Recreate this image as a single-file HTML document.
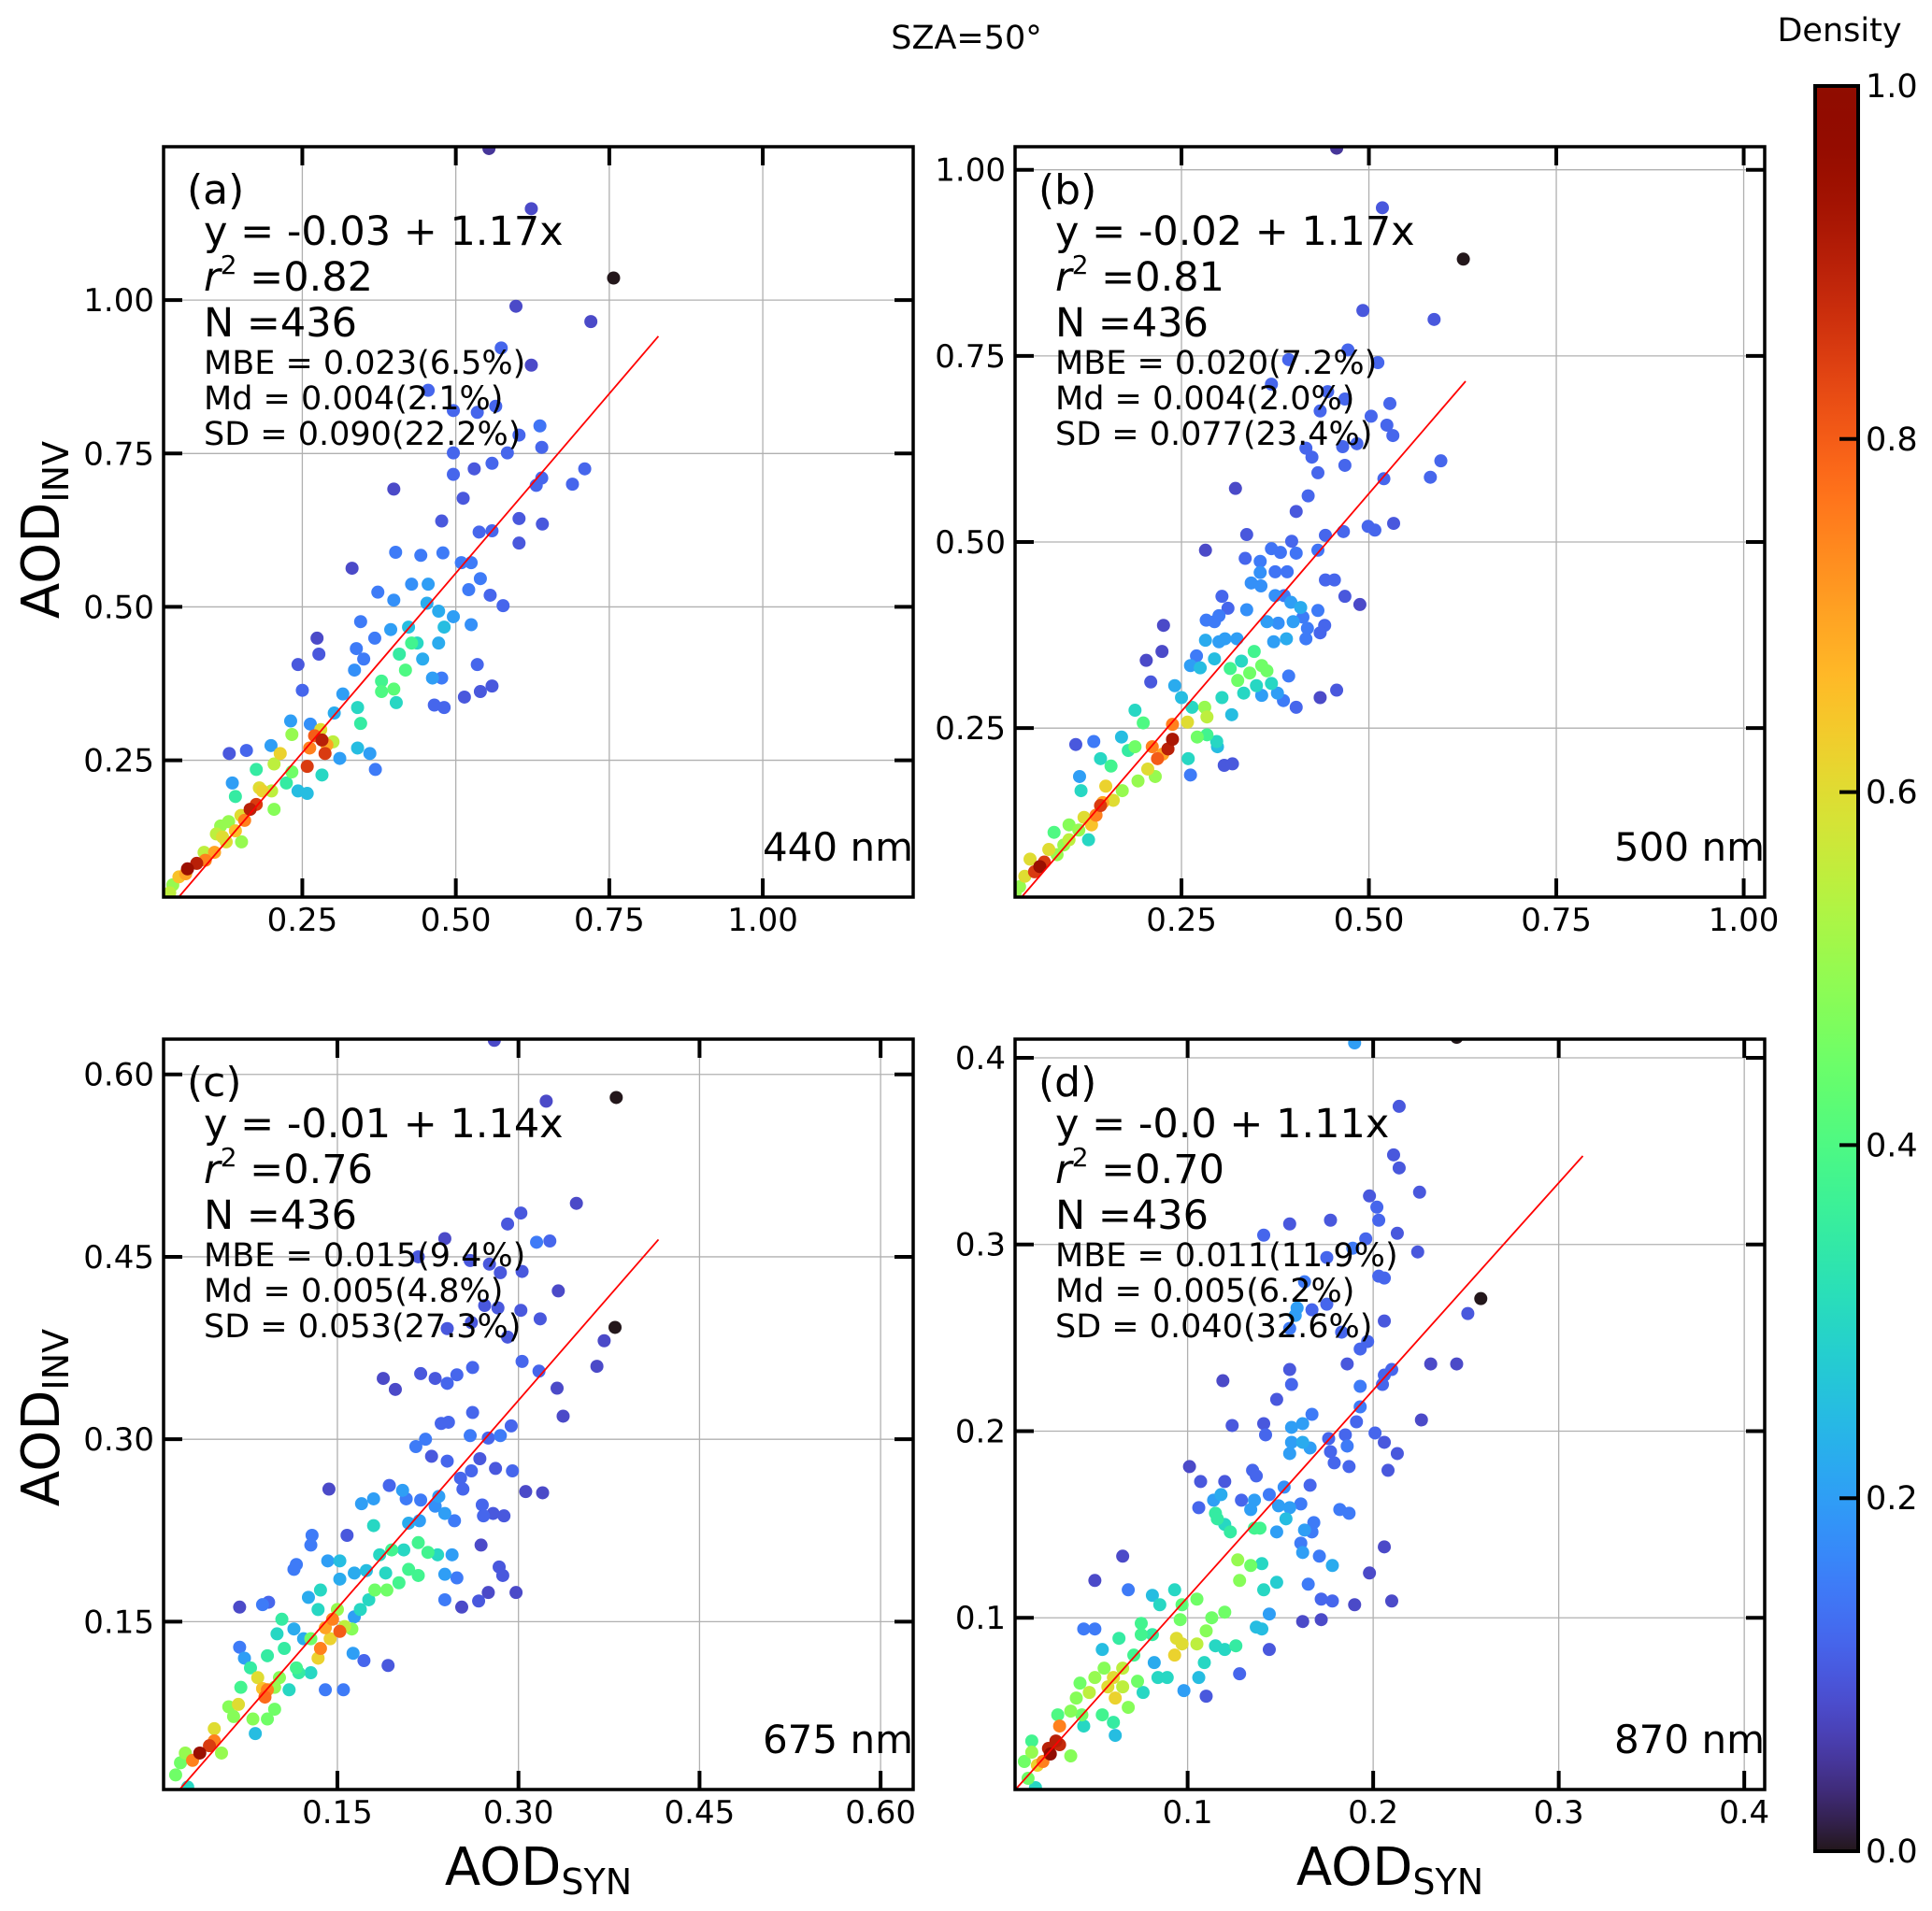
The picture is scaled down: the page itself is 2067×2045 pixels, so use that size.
<!DOCTYPE html>
<html><head><meta charset="utf-8">
<style>
html,body{margin:0;padding:0;background:#fff;}
svg{display:block;font-family:"DejaVu Sans","Liberation Sans",sans-serif;}
</style></head>
<body>
<svg id="fig" width="2067" height="2045" viewBox="0 0 2067 2045" xmlns="http://www.w3.org/2000/svg">
<rect x="0" y="0" width="2067" height="2045" fill="#fff"/>
<text x="1034" y="52" font-size="35" text-anchor="middle">SZA=50°</text>
<text x="1968" y="44" font-size="35" text-anchor="middle">Density</text>
<text transform="translate(63,567) rotate(-90)" font-size="56" text-anchor="middle">AOD<tspan font-size="38" dy="10">INV</tspan></text>
<text transform="translate(63,1517) rotate(-90)" font-size="56" text-anchor="middle">AOD<tspan font-size="38" dy="10">INV</tspan></text>
<text x="576" y="2017" font-size="56" text-anchor="middle">AOD<tspan font-size="38" dy="10">SYN</tspan></text>
<text x="1487" y="2017" font-size="56" text-anchor="middle">AOD<tspan font-size="38" dy="10">SYN</tspan></text>
<g id="panels"></g>
<g id="cbar"></g>
</svg>
<script>
// ---- data (data units: x = AOD_SYN, y = AOD_INV, d = density) ----
const panelLetters = ["(a)","(b)","(c)","(d)"];
const wavelengths = ["440 nm","500 nm","675 nm","870 nm"];
const fitIntercepts = [-0.03,-0.02,-0.01,-0.0];
const fitSlopes = [1.17,1.17,1.14,1.11];
const fitXEnd = [0.83,0.629,0.416,0.313];
const eqTexts = ["y = -0.03 + 1.17x","y = -0.02 + 1.17x","y = -0.01 + 1.14x","y = -0.0 + 1.11x"];
const r2Texts = ["0.82","0.81","0.76","0.70"];
const nTexts = ["436","436","436","436"];
const mbeTexts = ["MBE = 0.023(6.5%)","MBE = 0.020(7.2%)","MBE = 0.015(9.4%)","MBE = 0.011(11.9%)"];
const mdTexts = ["Md = 0.004(2.1%)","Md = 0.004(2.0%)","Md = 0.005(4.8%)","Md = 0.005(6.2%)"];
const sdTexts = ["SD = 0.090(22.2%)","SD = 0.077(23.4%)","SD = 0.053(27.3%)","SD = 0.040(32.6%)"];
const xRanges = [[0.024,1.245],[0.028,1.028],[0.006,0.627],[0.007,0.411]];
const yRanges = [[0.027,1.25],[0.023,1.031],[0.012,0.629],[0.008,0.41]];
const xTicksA = [0.25,0.50,0.75,1.00], xTickLabelsA = ["0.25","0.50","0.75","1.00"];
const yTicksA = [0.25,0.50,0.75,1.00], yTickLabelsA = ["0.25","0.50","0.75","1.00"];
const xTicksB = [0.25,0.50,0.75,1.00], xTickLabelsB = ["0.25","0.50","0.75","1.00"];
const yTicksB = [0.25,0.50,0.75,1.00], yTickLabelsB = ["0.25","0.50","0.75","1.00"];
const xTicksC = [0.15,0.30,0.45,0.60], xTickLabelsC = ["0.15","0.30","0.45","0.60"];
const yTicksC = [0.15,0.30,0.45,0.60], yTickLabelsC = ["0.15","0.30","0.45","0.60"];
const xTicksD = [0.1,0.2,0.3,0.4], xTickLabelsD = ["0.1","0.2","0.3","0.4"];
const yTicksD = [0.1,0.2,0.3,0.4], yTickLabelsD = ["0.1","0.2","0.3","0.4"];
const cbarTicks = [0,0.2,0.4,0.6,0.8,1.0], cbarTickLabels = ["0.0","0.2","0.4","0.6","0.8","1.0"];

const pointsA = [[.554,1.247,.05],[.623,1.149,.08],[.757,1.036,0],[.598,.990,.08],[.72,.965,.08],[.623,.894,.08],[.574,.922,.12],[.455,.853,.12],[.496,.82,.12],[.535,.817,.12],[.565,.827,.12],[.637,.795,.14],[.603,.78,.12],[.496,.751,.12],[.584,.751,.12],[.64,.76,.12],[.559,.734,.12],[.496,.716,.12],[.53,.725,.1],[.71,.725,.12],[.69,.70,.12],[.64,.71,.12],[.399,.692,.08],[.512,.677,.1],[.477,.64,.1],[.631,.698,.12],[.603,.644,.1],[.641,.635,.1],[.538,.622,.12],[.559,.624,.12],[.603,.604,.1],[.331,.563,.08],[.402,.589,.15],[.443,.584,.15],[.479,.588,.15],[.509,.572,.15],[.525,.572,.15],[.54,.546,.15],[.521,.528,.15],[.556,.519,.12],[.577,.502,.12],[.373,.524,.15],[.399,.511,.18],[.428,.537,.18],[.455,.537,.2],[.453,.506,.22],[.472,.493,.22],[.496,.484,.2],[.481,.467,.25],[.525,.471,.18],[.345,.476,.15],[.368,.449,.15],[.394,.463,.2],[.423,.467,.25],[.437,.441,.3],[.472,.441,.22],[.446,.415,.22],[.462,.384,.2],[.477,.384,.15],[.465,.34,.12],[.481,.336,.12],[.514,.353,.1],[.54,.362,.1],[.559,.371,.1],[.535,.406,.12],[.379,.379,.38],[.399,.366,.42],[.418,.397,.4],[.408,.423,.35],[.428,.441,.38],[.403,.344,.3],[.379,.362,.4],[.34,.336,.3],[.345,.31,.35],[.34,.27,.25],[.36,.261,.2],[.369,.235,.15],[.302,.327,.22],[.316,.358,.2],[.335,.397,.18],[.338,.432,.15],[.35,.415,.15],[.274,.449,.08],[.277,.423,.1],[.243,.406,.1],[.25,.364,.12],[.282,.283,.9],[.287,.261,.85],[.258,.24,.85],[.262,.27,.75],[.233,.292,.5],[.214,.261,.62],[.233,.231,.45],[.243,.2,.25],[.204,.244,.55],[.18,.205,.6],[.165,.17,.9],[.175,.178,.85],[.156,.152,.75],[.141,.135,.65],[.126,.117,.6],[.107,.1,.7],[.092,.087,.75],[.078,.082,.9],[.063,.073,.95],[.049,.06,.65],[.039,.047,.5],[.034,.034,.55],[.131,.261,.1],[.159,.266,.12],[.199,.274,.2],[.136,.213,.2],[.141,.191,.35],[.175,.235,.35],[.204,.17,.48],[.117,.143,.5],[.151,.117,.5],[.224,.213,.35],[.282,.226,.3],[.258,.196,.25],[.311,.253,.2],[.263,.309,.18],[.231,.314,.2],[.11,.13,.55],[.2,.2,.55],[.15,.16,.6],[.09,.1,.55],[.3,.28,.55],[.28,.3,.6],[.06,.065,.7],[.13,.15,.5],[.27,.29,.8],[.29,.275,.7],[.185,.2,.62],[.12,.125,.6]];

const pointsB = [[.457,1.029,.05],[.518,.949,.1],[.626,.88,0],[.492,.811,.1],[.587,.799,.1],[.472,.758,.12],[.512,.741,.12],[.37,.712,.12],[.393,.745,.12],[.468,.692,.12],[.445,.702,.12],[.435,.676,.12],[.528,.686,.12],[.503,.669,.12],[.524,.657,.12],[.532,.643,.12],[.416,.626,.12],[.465,.628,.12],[.484,.632,.12],[.424,.614,.12],[.468,.603,.12],[.432,.593,.12],[.596,.609,.12],[.582,.587,.12],[.322,.572,.08],[.419,.562,.12],[.52,.585,.12],[.403,.541,.1],[.499,.521,.12],[.508,.516,.12],[.533,.525,.1],[.466,.514,.12],[.442,.509,.12],[.337,.51,.1],[.282,.489,.08],[.397,.501,.12],[.37,.491,.14],[.382,.486,.14],[.403,.485,.14],[.432,.489,.14],[.335,.478,.12],[.355,.474,.15],[.355,.459,.18],[.375,.46,.14],[.391,.46,.14],[.442,.449,.12],[.454,.449,.12],[.468,.427,.1],[.488,.416,.08],[.343,.445,.18],[.356,.441,.18],[.304,.427,.12],[.312,.411,.12],[.337,.409,.18],[.375,.428,.18],[.387,.428,.15],[.396,.419,.2],[.409,.412,.22],[.432,.408,.15],[.283,.395,.15],[.294,.393,.15],[.3,.401,.15],[.226,.388,.08],[.399,.393,.2],[.412,.399,.15],[.441,.388,.12],[.364,.393,.2],[.379,.391,.18],[.418,.384,.15],[.435,.378,.12],[.416,.37,.15],[.39,.37,.22],[.373,.366,.2],[.324,.37,.2],[.308,.37,.2],[.3,.366,.2],[.282,.368,.22],[.27,.347,.15],[.224,.353,.08],[.203,.341,.08],[.209,.312,.1],[.262,.334,.2],[.275,.331,.25],[.294,.343,.25],[.315,.33,.38],[.33,.34,.3],[.347,.353,.38],[.357,.334,.45],[.364,.327,.45],[.341,.324,.45],[.325,.314,.45],[.333,.297,.3],[.35,.307,.3],[.37,.31,.3],[.378,.297,.2],[.393,.32,.15],[.357,.294,.2],[.386,.287,.15],[.403,.278,.12],[.435,.291,.08],[.457,.301,.1],[.281,.278,.5],[.284,.265,.55],[.258,.258,.6],[.238,.255,.75],[.241,.307,.22],[.25,.291,.25],[.264,.278,.3],[.304,.291,.3],[.317,.268,.25],[.284,.241,.38],[.271,.238,.45],[.297,.232,.3],[.298,.225,.25],[.307,.2,.1],[.318,.202,.1],[.262,.187,.15],[.259,.209,.3],[.238,.235,.92],[.232,.222,.9],[.218,.209,.8],[.211,.225,.75],[.205,.195,.6],[.215,.185,.5],[.188,.225,.45],[.199,.257,.4],[.188,.274,.3],[.17,.238,.25],[.179,.22,.35],[.156,.199,.38],[.142,.209,.3],[.133,.232,.15],[.109,.228,.1],[.114,.185,.2],[.116,.166,.3],[.149,.172,.62],[.142,.146,.85],[.136,.133,.75],[.13,.12,.65],[.159,.153,.6],[.171,.166,.5],[.126,.1,.3],[.113,.113,.5],[.1,.12,.48],[.093,.093,.5],[.08,.11,.4],[.084,.08,.5],[.073,.087,.6],[.067,.07,.85],[.061,.064,.95],[.054,.057,.85],[.041,.051,.6],[.034,.037,.5],[.028,.028,.5],[.048,.074,.6],[.192,.179,.5],[.1,.1,.55],[.12,.13,.6],[.225,.215,.7],[.145,.15,.7]];

const pointsC = [[.28,.628,.08],[.323,.578,.08],[.381,.581,0],[.348,.494,.08],[.302,.486,.1],[.291,.477,.1],[.239,.465,.08],[.315,.462,.15],[.326,.463,.12],[.285,.437,.1],[.26,.447,.1],[.276,.444,.1],[.303,.438,.1],[.217,.45,.1],[.333,.422,.08],[.272,.41,.1],[.283,.408,.1],[.302,.406,.1],[.318,.399,.1],[.241,.391,.1],[.261,.396,.1],[.291,.384,.1],[.38,.392,0],[.371,.381,.08],[.365,.36,.08],[.303,.364,.12],[.317,.356,.12],[.332,.342,.08],[.337,.319,.08],[.262,.359,.12],[.249,.353,.12],[.241,.346,.12],[.231,.35,.1],[.219,.354,.1],[.188,.35,.08],[.198,.341,.08],[.262,.322,.12],[.236,.313,.12],[.242,.314,.12],[.215,.294,.15],[.223,.3,.15],[.228,.286,.1],[.241,.282,.12],[.252,.268,.12],[.254,.259,.12],[.26,.303,.15],[.275,.301,.12],[.285,.303,.15],[.294,.311,.12],[.268,.284,.1],[.261,.274,.12],[.281,.276,.1],[.295,.274,.12],[.306,.257,.08],[.32,.256,.08],[.27,.246,.12],[.271,.237,.12],[.279,.239,.1],[.288,.237,.1],[.269,.213,.08],[.284,.195,.1],[.287,.188,.1],[.298,.174,.08],[.275,.174,.08],[.267,.167,.1],[.253,.162,.08],[.239,.168,.15],[.249,.186,.15],[.239,.189,.2],[.143,.259,.08],[.193,.262,.12],[.204,.258,.2],[.207,.251,.15],[.219,.25,.15],[.234,.253,.2],[.231,.245,.18],[.239,.239,.2],[.247,.233,.15],[.218,.233,.2],[.209,.231,.22],[.158,.221,.1],[.17,.247,.2],[.18,.251,.2],[.18,.229,.3],[.129,.221,.15],[.128,.213,.15],[.114,.193,.15],[.116,.197,.15],[.142,.2,.2],[.152,.2,.25],[.164,.19,.22],[.174,.192,.25],[.185,.205,.3],[.195,.209,.38],[.205,.209,.3],[.217,.215,.38],[.225,.207,.38],[.233,.205,.3],[.245,.205,.2],[.209,.193,.38],[.217,.188,.38],[.201,.182,.38],[.191,.176,.45],[.181,.176,.45],[.19,.19,.3],[.176,.168,.3],[.169,.16,.3],[.164,.154,.2],[.152,.185,.22],[.136,.176,.3],[.126,.17,.22],[.134,.16,.3],[.15,.16,.5],[.146,.152,.75],[.152,.142,.8],[.144,.136,.62],[.136,.128,.75],[.134,.12,.62],[.156,.146,.55],[.162,.144,.48],[.128,.136,.45],[.122,.136,.22],[.114,.144,.22],[.104,.152,.35],[.1,.14,.3],[.106,.128,.35],[.092,.122,.35],[.088,.164,.15],[.093,.166,.12],[.069,.162,.08],[.069,.129,.15],[.073,.12,.2],[.078,.112,.35],[.084,.104,.6],[.092,.094,.75],[.09,.088,.78],[.098,.096,.5],[.102,.104,.48],[.11,.094,.3],[.116,.112,.38],[.118,.108,.35],[.128,.108,.3],[.14,.094,.15],[.155,.094,.15],[.172,.118,.12],[.192,.114,.1],[.163,.124,.2],[.07,.096,.38],[.06,.08,.48],[.068,.082,.6],[.082,.058,.25],[.08,.07,.48],[.092,.07,.45],[.098,.078,.45],[.064,.072,.48],[.048,.062,.6],[.044,.048,.85],[.036,.042,.95],[.03,.036,.75],[.024,.042,.5],[.02,.034,.45],[.016,.024,.45],[.026,.014,.3],[.054,.042,.5],[.048,.052,.75],[.14,.145,.7],[.088,.095,.65]];

const pointsD = [[.19,.408,.2],[.245,.411,0],[.214,.374,.1],[.211,.348,.1],[.214,.341,.1],[.225,.328,.1],[.198,.326,.1],[.202,.32,.12],[.203,.313,.12],[.213,.306,.1],[.224,.296,.1],[.155,.311,.1],[.177,.313,.1],[.141,.305,.12],[.196,.303,.12],[.189,.298,.15],[.175,.293,.12],[.163,.28,.15],[.203,.283,.12],[.206,.282,.12],[.175,.268,.12],[.167,.265,.12],[.159,.266,.2],[.158,.262,.2],[.206,.259,.1],[.155,.255,.15],[.183,.253,.12],[.193,.244,.12],[.197,.248,.12],[.258,.271,0],[.251,.263,.1],[.186,.236,.1],[.231,.236,.08],[.245,.236,.08],[.155,.233,.1],[.156,.225,.12],[.119,.227,.08],[.21,.233,.12],[.206,.23,.12],[.205,.225,.12],[.193,.224,.15],[.148,.217,.1],[.193,.213,.15],[.226,.206,.08],[.124,.203,.1],[.141,.204,.1],[.142,.198,.12],[.156,.202,.2],[.162,.204,.2],[.167,.209,.15],[.191,.205,.12],[.201,.199,.12],[.206,.194,.1],[.213,.188,.1],[.208,.179,.1],[.176,.196,.12],[.185,.198,.12],[.156,.194,.2],[.162,.194,.22],[.166,.191,.2],[.155,.188,.2],[.177,.189,.12],[.186,.192,.15],[.179,.183,.12],[.187,.181,.12],[.101,.181,.08],[.107,.173,.1],[.12,.173,.1],[.135,.179,.12],[.137,.176,.12],[.144,.166,.15],[.152,.17,.18],[.166,.171,.12],[.161,.161,.15],[.155,.159,.2],[.149,.16,.2],[.136,.163,.2],[.134,.158,.2],[.129,.163,.12],[.118,.166,.22],[.114,.163,.2],[.106,.159,.12],[.115,.156,.35],[.116,.153,.35],[.12,.15,.3],[.123,.146,.35],[.136,.148,.38],[.139,.148,.38],[.148,.146,.2],[.153,.153,.25],[.163,.147,.2],[.168,.151,.15],[.167,.146,.15],[.161,.14,.15],[.162,.135,.2],[.171,.133,.15],[.178,.128,.22],[.182,.158,.15],[.187,.156,.15],[.206,.138,.08],[.198,.124,.08],[.21,.109,.08],[.19,.107,.08],[.178,.109,.12],[.172,.11,.12],[.172,.099,.08],[.162,.098,.08],[.165,.118,.15],[.148,.119,.28],[.141,.115,.3],[.128,.12,.48],[.127,.131,.5],[.134,.128,.45],[.14,.129,.3],[.144,.102,.2],[.137,.095,.25],[.14,.094,.25],[.144,.083,.1],[.128,.07,.12],[.11,.058,.1],[.098,.061,.2],[.106,.068,.25],[.109,.076,.3],[.113,.1,.45],[.11,.093,.48],[.105,.086,.55],[.097,.086,.6],[.093,.08,.62],[.094,.089,.6],[.115,.085,.3],[.12,.083,.3],[.126,.085,.35],[.12,.103,.45],[.105,.11,.45],[.097,.107,.42],[.096,.099,.45],[.093,.115,.3],[.085,.107,.3],[.081,.112,.25],[.075,.097,.38],[.075,.091,.38],[.081,.091,.35],[.082,.076,.22],[.084,.068,.3],[.089,.068,.3],[.076,.06,.3],[.068,.115,.15],[.065,.133,.08],[.05,.12,.08],[.044,.094,.15],[.05,.094,.15],[.054,.083,.25],[.063,.089,.35],[.071,.08,.38],[.065,.073,.55],[.06,.068,.6],[.061,.057,.62],[.057,.063,.6],[.065,.063,.55],[.068,.052,.48],[.073,.066,.45],[.055,.073,.48],[.05,.068,.5],[.042,.065,.45],[.04,.057,.48],[.047,.06,.55],[.037,.05,.48],[.043,.048,.45],[.054,.048,.38],[.06,.044,.35],[.061,.037,.25],[.044,.042,.3],[.03,.048,.4],[.031,.042,.75],[.029,.034,.9],[.025,.03,.9],[.026,.027,.98],[.031,.032,.88],[.022,.023,.75],[.019,.021,.62],[.016,.028,.5],[.016,.034,.38],[.012,.023,.45],[.014,.014,.45],[.018,.009,.3],[.037,.026,.48]];

// ---- layout ----
const NS = "http://www.w3.org/2000/svg";
const boxes = [[175,157,977,960],[1086,157,1888,960],[175,1112,977,1915],[1086,1112,1888,1915]];
const allPoints = [pointsA,pointsB,pointsC,pointsD];
const allXTicks = [xTicksA,xTicksB,xTicksC,xTicksD];
const allXLabels = [xTickLabelsA,xTickLabelsB,xTickLabelsC,xTickLabelsD];
const allYTicks = [yTicksA,yTicksB,yTicksC,yTicksD];
const allYLabels = [yTickLabelsA,yTickLabelsB,yTickLabelsC,yTickLabelsD];

function turbo(t){
  t=Math.max(0,Math.min(1,t));
  const r=0.13572138+t*(4.61539260+t*(-42.66032258+t*(132.13108234+t*(-152.94239396+t*59.28637943))));
  const g=0.09140261+t*(2.19418839+t*(4.84296658+t*(-14.18503333+t*(4.27729857+t*2.82956604))));
  const b=0.10667330+t*(12.64194608+t*(-60.58204836+t*(110.36276771+t*(-89.90310912+t*27.34824973))));
  const c=v=>Math.round(Math.max(0,Math.min(1,v))*255);
  return `rgb(${c(r)},${c(g)},${c(b)})`;
}
function mk(tag, attrs, parent){
  const el=document.createElementNS(NS,tag);
  for(const k in attrs) el.setAttribute(k,attrs[k]);
  if(parent) parent.appendChild(el);
  return el;
}

const panelsG=document.getElementById('panels');
const defs=mk('defs',{},document.getElementById('fig'));

for(let p=0;p<4;p++){
  const [L,T,R,B]=boxes[p];
  const [x0,x1]=xRanges[p], [y0,y1]=yRanges[p];
  const sx=v=>L+(v-x0)/(x1-x0)*(R-L);
  const sy=v=>B-(v-y0)/(y1-y0)*(B-T);
  const g=mk('g',{},panelsG);
  
  
  const cp=mk('clipPath',{id:'clip'+p},defs);
  mk('rect',{x:L,y:T,width:R-L,height:B-T},cp);

  allXTicks[p].forEach(v=>{
    const ln=mk('line',{x1:sx(v),x2:sx(v),y1:T,y2:B,stroke:'#b0b0b0','stroke-width':1.3},g);
    
    
  });
  allYTicks[p].forEach(v=>{
    const ln=mk('line',{x1:L,x2:R,y1:sy(v),y2:sy(v),stroke:'#b0b0b0','stroke-width':1.3},g);
    
    
  });

  const pg=mk('g',{'clip-path':`url(#clip${p})`},g);
  
  
  const pts=allPoints[p].slice().sort((a,b)=>a[2]-b[2]);
  pts.forEach(pt=>{
    const c=mk('circle',{cx:sx(pt[0]),cy:sy(pt[1]),r:7,fill:turbo(pt[2])},pg);
    
    
  });

  const a=fitIntercepts[p], b=fitSlopes[p];
  const xs=Math.max(x0,(y0-a)/b), xe=fitXEnd[p];
  const fl=mk('line',{x1:sx(xs),y1:sy(a+b*xs),x2:sx(xe),y2:sy(a+b*xe),stroke:'#ff0000','stroke-width':1.8,'clip-path':`url(#clip${p})`},g);
  
  

  const tl=20;
  allXTicks[p].forEach((v,i)=>{
    const X=sx(v);
    mk('line',{x1:X,x2:X,y1:B,y2:B-tl,stroke:'#000','stroke-width':4},g);
    mk('line',{x1:X,x2:X,y1:T,y2:T+tl,stroke:'#000','stroke-width':4},g);
    const t=mk('text',{x:X,y:B+36,'font-size':34,'text-anchor':'middle'},g);
    t.textContent=allXLabels[p][i];
    
    
  });
  allYTicks[p].forEach((v,i)=>{
    const Y=sy(v);
    mk('line',{x1:L,x2:L+tl,y1:Y,y2:Y,stroke:'#000','stroke-width':4},g);
    mk('line',{x1:R,x2:R-tl,y1:Y,y2:Y,stroke:'#000','stroke-width':4},g);
    const t=mk('text',{x:L-10,y:Y+12,'font-size':34,'text-anchor':'end'},g);
    t.textContent=allYLabels[p][i];
    
    
  });

  const fr=mk('rect',{x:L,y:T,width:R-L,height:B-T,fill:'none',stroke:'#000','stroke-width':3.5},g);
  
  

  const lab=mk('text',{x:L+25,y:T+61,'font-size':44},g);
  lab.textContent=panelLetters[p];
  
  
  const eq=mk('text',{x:L+43,y:T+105,'font-size':43},g);
  eq.textContent=eqTexts[p];
  
  
  const r2=mk('text',{x:L+43,y:T+154,'font-size':43},g);
  
  
  const rt=mk('tspan',{'font-style':'italic'},r2); rt.textContent='r';
  const st=mk('tspan',{'font-size':28,dy:-18}, r2); st.textContent='2';
  const rv=mk('tspan',{dy:18},r2); rv.textContent=' =' + r2Texts[p];
  const nn=mk('text',{x:L+43,y:T+203,'font-size':43},g);
  nn.textContent='N ='+nTexts[p];
  
  
  [[mbeTexts,243,'mbe-stat'],[mdTexts,281,'md-stat'],[sdTexts,319,'sd-stat']].forEach(([arr,dy,nm])=>{
    const t=mk('text',{x:L+43,y:T+dy,'font-size':35},g);
    t.textContent=arr[p];
    
    
  });
  const wl=mk('text',{x:R,y:B-39,'font-size':42,'text-anchor':'end'},g);
  wl.textContent=wavelengths[p];
  
  
}

const cb=document.getElementById('cbar');
const CL=1942,CR=1988,CT=92,CB=1981;
const grad=mk('linearGradient',{id:'turboGrad',x1:0,y1:1,x2:0,y2:0},defs);
for(let i=0;i<=60;i++){ mk('stop',{offset:(i/60),'stop-color':turbo(i/60)},grad); }
const cbr=mk('rect',{x:CL,y:CT,width:CR-CL,height:CB-CT,fill:'url(#turboGrad)',stroke:'#000','stroke-width':4},cb);


cbarTicks.forEach((v,i)=>{
  const Y=CB-v*(CB-CT);
  mk('line',{x1:CR,x2:CR-20,y1:Y,y2:Y,stroke:'#000','stroke-width':4},cb);
  const t=mk('text',{x:CR+8,y:Y+12,'font-size':35},cb);
  t.textContent=cbarTickLabels[i];
  
  
});
</script>
</body></html>
